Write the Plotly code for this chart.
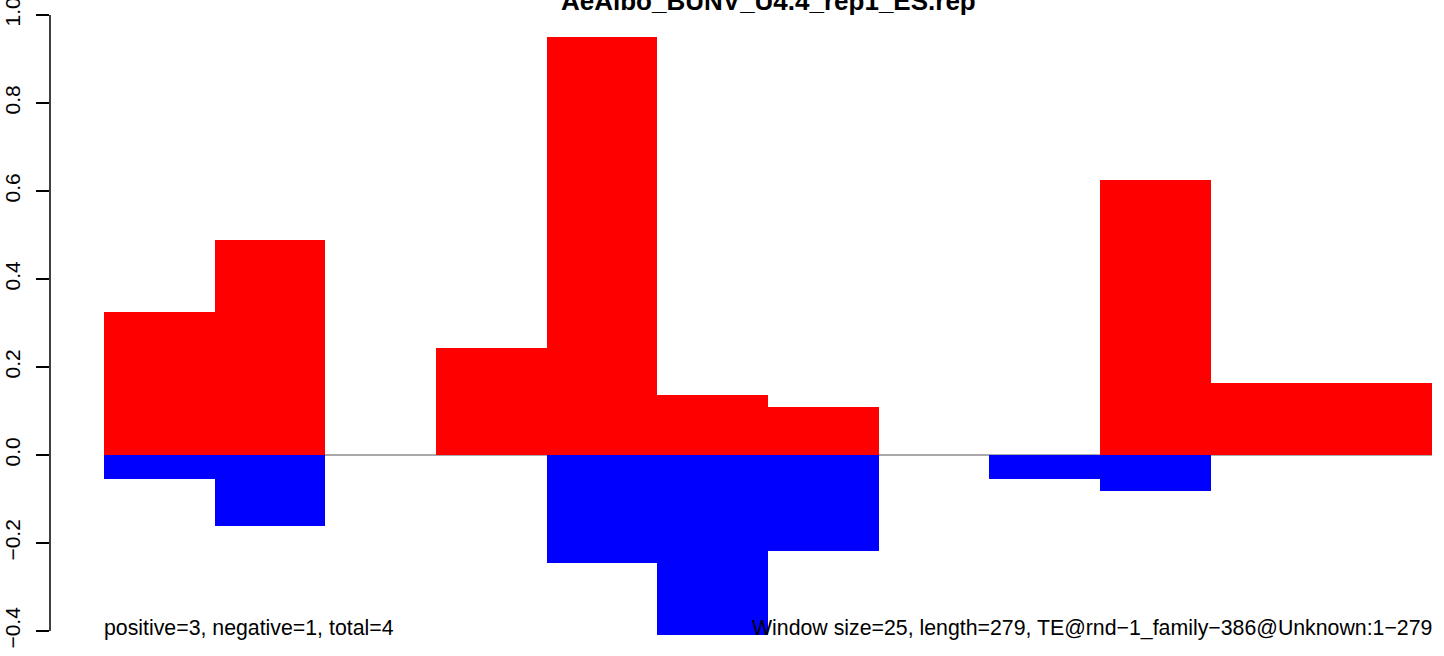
import plotly.graph_objects as go

# ---- data ----
title_text = "AeAlbo_BUNV_U4.4_rep1_ES.rep"
window_size = 25
n_windows = 12
window_starts = [i * window_size for i in range(n_windows)]
pos_values = [0.325, 0.488, 0.0, 0.243, 0.950, 0.136, 0.109, 0.0, 0.0, 0.624, 0.164, 0.164]
neg_values = [-0.054, -0.162, 0.0, 0.0, -0.245, -0.409, -0.218, 0.0, -0.054, -0.082, 0.0, 0.0]
y_tickvals = [-0.4, -0.2, 0.0, 0.2, 0.4, 0.6, 0.8, 1.0]
y_ticktext = ["\u22120.4", "\u22120.2", "0.0", "0.2", "0.4", "0.6", "0.8", "1.0"]
left_note = "positive=3, negative=1, total=4"
right_note = "Window size=25, length=279, TE@rnd\u22121_family\u2212386@Unknown:1\u2212279"

# ---- geometry (pixel-calibrated) ----
W, H = 1444, 656
x_end = window_size * n_windows
px_per_unit_x = (1432 - 104) / x_end
x_min = -(104 - 50) / px_per_unit_x
px_per_unit_y = 440.0
y_top = 1.0 + 15 / px_per_unit_y
y_bot = 1.0 - (H - 15) / px_per_unit_y

def ydata(py):
    return 1.0 - (py - 15) / px_per_unit_y

centers = [s + window_size / 2 for s in window_starts]
FONT = "Liberation Sans, Arial, Helvetica, sans-serif"

fig = go.Figure()
fig.add_trace(go.Bar(x=centers, y=pos_values, width=window_size,
                     marker=dict(color="#FF0000", line=dict(width=0)),
                     hoverinfo="skip", showlegend=False))
fig.add_trace(go.Bar(x=centers, y=neg_values, width=window_size,
                     marker=dict(color="#0000FF", line=dict(width=0)),
                     hoverinfo="skip", showlegend=False))

# zero line (under the bars)
fig.add_shape(type="line", x0=0, x1=x_end, y0=0, y1=0, layer="below",
              line=dict(color="#8c8c8c", width=1.5))
# y axis line spanning the tick range
fig.add_shape(type="line", xref="paper", x0=0, x1=0,
              y0=y_tickvals[0], y1=y_tickvals[-1],
              line=dict(color="black", width=1.5))

# title (partially cut at top as in reference)
fig.add_annotation(x=x_end / 2, y=ydata(12.5), text="<b>" + title_text + "</b>",
                   showarrow=False, xanchor="center", yanchor="bottom",
                   font=dict(family=FONT, size=26, color="black"), yshift=-6)

fig.add_annotation(x=0, y=ydata(628), text=left_note, showarrow=False,
                   xanchor="left", yanchor="middle", xshift=-2,
                   font=dict(family=FONT, size=21.3, color="black"))
fig.add_annotation(x=x_end, y=ydata(628), text=right_note, showarrow=False,
                   xanchor="right", yanchor="middle", xshift=2,
                   font=dict(family=FONT, size=21.3, color="black"))

fig.update_layout(
    width=W, height=H,
    margin=dict(l=50, r=W - 1432, t=0, b=0, pad=0, autoexpand=False),
    paper_bgcolor="white", plot_bgcolor="white",
    barmode="relative", bargap=0,
    xaxis=dict(range=[x_min, x_end], visible=False, fixedrange=True,
               automargin=False),
    yaxis=dict(range=[y_bot, y_top], showgrid=False, zeroline=False,
               showline=False, tickmode="array", tickvals=y_tickvals,
               ticktext=y_ticktext, ticks="outside", ticklen=13,
               tickwidth=1.5, tickcolor="black", tickangle=-90,
               tickfont=dict(family=FONT, size=21, color="black"),
               ticklabelstandoff=8, ticklabeloverflow="allow",
               automargin=False, fixedrange=True),
    font=dict(family=FONT),
)

fig.write_html("out.html", config={"displayModeBar": False},
               post_script="document.body.style.margin='0';document.body.style.overflow='hidden';")
